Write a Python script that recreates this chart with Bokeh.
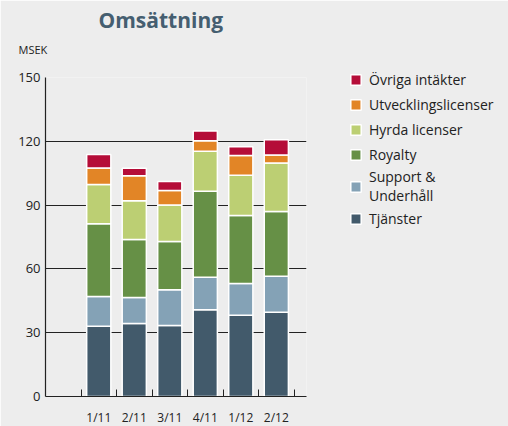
from bokeh.plotting import figure
from bokeh.models import (Range1d, FixedTicker, Legend, LegendItem, Title, ColumnDataSource)
from bokeh.embed import file_html
from bokeh.resources import INLINE

categories = ["1/11", "2/11", "3/11", "4/11", "1/12", "2/12"]
tjanster = [33.0, 34.3, 33.4, 40.8, 38.2, 39.6]
support = [14.0, 12.2, 16.8, 15.3, 14.9, 17.0]
royalty = [34.2, 27.3, 22.7, 40.4, 32.0, 30.4]
hyrda = [18.5, 18.2, 17.2, 18.8, 18.9, 22.8]
utveckling = [7.8, 11.8, 6.8, 4.9, 9.3, 3.8]
ovriga = [6.3, 3.5, 4.2, 4.7, 4.1, 7.1]
series_names = ["Tjänster", "Support &\nUnderhåll", "Royalty", "Hyrda licenser",
                "Utvecklingslicenser", "Övriga intäkter"]
y_ticks = [0, 30, 60, 90, 120, 150]

colors = ["#425a6b", "#84a2b6", "#669046", "#bccf73", "#e28526", "#b50d38"]
keys = ["tj", "su", "ro", "hy", "ut", "ov"]

src = ColumnDataSource(dict(x=list(range(len(categories))), tj=tjanster, su=support,
                            ro=royalty, hy=hyrda, ut=utveckling, ov=ovriga))

BG = "#ededed"
FONT = "Open Sans"
DARK = "#222222"

p = figure(frame_width=261, frame_height=319, output_backend="svg", toolbar_location=None,
           x_range=Range1d(-1.5, 5.85), y_range=Range1d(0, 150),
           min_border_left=45, min_border_right=202, min_border_top=77, min_border_bottom=30)
p.title.visible = False
p.background_fill_color = BG
p.border_fill_color = BG
p.outline_line_color = None

renderers = p.vbar_stack(keys, x="x", width=0.68, source=src, fill_color=colors,
                         line_color="white", line_width=1.5)

p.xgrid.visible = False
p.ygrid.grid_line_color = DARK
p.ygrid.grid_line_width = 1
p.ygrid.ticker = FixedTicker(ticks=y_ticks)

p.yaxis.ticker = FixedTicker(ticks=y_ticks)
p.yaxis.major_tick_out = 0
p.yaxis.major_tick_in = 0
p.yaxis.minor_tick_out = 0
p.yaxis.axis_line_color = DARK
p.yaxis.axis_line_width = 1.2
p.yaxis.major_label_text_font = FONT
p.yaxis.major_label_text_font_size = "13px"
p.yaxis.major_label_text_color = DARK
p.yaxis.major_label_standoff = 5

p.xaxis.ticker = FixedTicker(ticks=list(range(len(categories))),
                             minor_ticks=[i - 0.5 for i in range(len(categories) + 1)])
p.xaxis.major_label_overrides = {i: c for i, c in enumerate(categories)}
p.xaxis.major_tick_in = 0
p.xaxis.major_tick_out = 0
p.xaxis.minor_tick_in = 7
p.xaxis.minor_tick_out = 0
p.xaxis.minor_tick_line_color = DARK
p.xaxis.axis_line_color = DARK
p.xaxis.axis_line_width = 1.2
p.xaxis.major_label_text_font = FONT
p.xaxis.major_label_text_font_size = "12px"
p.xaxis.major_label_text_color = DARK
p.xaxis.major_label_standoff = 12

# titles (first added sits closest to the frame)
p.add_layout(Title(text=" ", text_font_size="10px", standoff=5), "above")
p.add_layout(Title(text="MSEK", align="left", offset=-27, text_font=FONT,
                   text_font_size="11px", text_font_style="normal",
                   text_color=DARK, standoff=6), "above")
p.add_layout(Title(text="Omsättning", align="left", offset=53, text_font=FONT,
                   text_font_size="21px", text_font_style="bold",
                   text_color="#455e70", standoff=6), "above")

items = [LegendItem(label=series_names[i], renderers=[renderers[i]])
         for i in reversed(range(len(keys)))]
legend = Legend(items=items, location=(43, 166), orientation="vertical",
                glyph_width=13, glyph_height=13, label_height=24, spacing=1,
                label_standoff=7, padding=0, margin=0,
                label_text_font=FONT, label_text_font_size="14px",
                label_text_color=DARK, background_fill_alpha=0,
                border_line_color=None)
p.add_layout(legend, "right")

open("out.html", "w").write(file_html(p, INLINE))
